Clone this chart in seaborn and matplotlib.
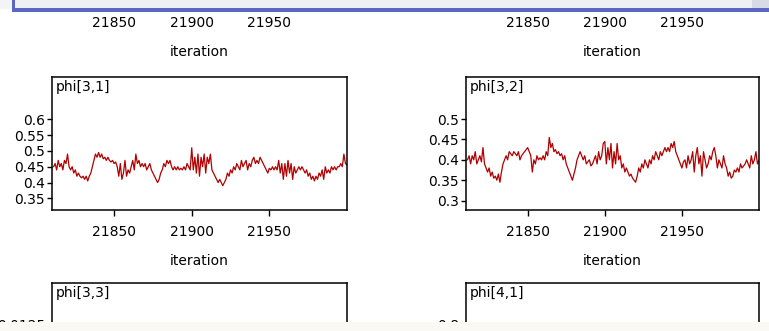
import matplotlib
matplotlib.use("Agg")
import matplotlib.pyplot as plt
import matplotlib.ticker as mticker
from matplotlib.patches import Rectangle
import pandas as pd
import seaborn as sns

# iterations shown in the trace window
iter_start = 21811
iter_end = 22000
x_ticks = [21850, 21900, 21950]

phi_3_1 = [
    0.45, 0.46, 0.44, 0.47, 0.45, 0.46, 0.44, 0.47, 0.46, 0.49,
    0.45, 0.44, 0.45, 0.43, 0.44, 0.42, 0.43, 0.42, 0.415, 0.42,
    0.41, 0.42, 0.405, 0.42, 0.43, 0.45, 0.47, 0.49, 0.48, 0.495,
    0.48, 0.49, 0.475, 0.48, 0.47, 0.48, 0.47, 0.465, 0.47, 0.46,
    0.465, 0.45, 0.42, 0.46, 0.41, 0.43, 0.47, 0.42, 0.44, 0.43,
    0.45, 0.47, 0.44, 0.49, 0.46, 0.47, 0.45, 0.46, 0.45, 0.46,
    0.44, 0.45, 0.46, 0.44, 0.43, 0.42, 0.41, 0.40, 0.41, 0.43,
    0.44, 0.46, 0.45, 0.47, 0.46, 0.47, 0.45, 0.44, 0.45, 0.44,
    0.45, 0.44, 0.445, 0.44, 0.45, 0.44, 0.46, 0.45, 0.44, 0.51,
    0.44, 0.48, 0.43, 0.49, 0.42, 0.48, 0.45, 0.49, 0.43, 0.48,
    0.46, 0.49, 0.44, 0.43, 0.42, 0.41, 0.40, 0.41, 0.40, 0.39,
    0.40, 0.41, 0.43, 0.42, 0.44, 0.43, 0.45, 0.44, 0.46, 0.45,
    0.44, 0.47, 0.45, 0.46, 0.47, 0.44, 0.46, 0.45, 0.47, 0.48,
    0.46, 0.47, 0.46, 0.48, 0.47, 0.46, 0.45, 0.44, 0.43, 0.445,
    0.44, 0.45, 0.44, 0.45, 0.44, 0.47, 0.43, 0.46, 0.41, 0.46,
    0.42, 0.47, 0.43, 0.46, 0.41, 0.45, 0.43, 0.44, 0.45, 0.44,
    0.45, 0.44, 0.43, 0.44, 0.42, 0.43, 0.41, 0.42, 0.405, 0.42,
    0.41, 0.43, 0.42, 0.44, 0.41, 0.45, 0.43, 0.44, 0.43, 0.45,
    0.44, 0.45, 0.44, 0.45, 0.45, 0.46, 0.45, 0.49, 0.46, 0.455,
]

phi_3_2 = [
    0.40, 0.41, 0.39, 0.41, 0.40, 0.42, 0.39, 0.40, 0.41, 0.395,
    0.43, 0.39, 0.38, 0.37, 0.38, 0.36, 0.37, 0.355, 0.36, 0.35,
    0.365, 0.345, 0.37, 0.39, 0.40, 0.41, 0.40, 0.42, 0.415, 0.41,
    0.42, 0.415, 0.41, 0.42, 0.40, 0.41, 0.415, 0.42, 0.425, 0.43,
    0.42, 0.41, 0.37, 0.40, 0.39, 0.41, 0.40, 0.405, 0.40, 0.41,
    0.40, 0.42, 0.41, 0.455, 0.43, 0.44, 0.42, 0.425, 0.415, 0.42,
    0.41, 0.415, 0.40, 0.41, 0.39, 0.38, 0.37, 0.36, 0.35, 0.365,
    0.38, 0.40, 0.41, 0.42, 0.41, 0.40, 0.41, 0.39, 0.395, 0.40,
    0.385, 0.39, 0.40, 0.41, 0.39, 0.42, 0.40, 0.41, 0.44, 0.445,
    0.39, 0.43, 0.40, 0.44, 0.38, 0.42, 0.39, 0.44, 0.40, 0.41,
    0.38, 0.39, 0.37, 0.38, 0.37, 0.36, 0.365, 0.355, 0.35, 0.345,
    0.36, 0.38, 0.37, 0.39, 0.38, 0.40, 0.39, 0.38, 0.40, 0.39,
    0.41, 0.40, 0.42, 0.41, 0.40, 0.42, 0.41, 0.42, 0.43, 0.42,
    0.43, 0.42, 0.44, 0.43, 0.445, 0.42, 0.41, 0.40, 0.39, 0.38,
    0.395, 0.40, 0.38, 0.41, 0.39, 0.40, 0.42, 0.37, 0.41, 0.43,
    0.39, 0.41, 0.36, 0.42, 0.40, 0.38, 0.39, 0.41, 0.40, 0.42,
    0.43, 0.41, 0.38, 0.40, 0.39, 0.38, 0.41, 0.39, 0.38, 0.36,
    0.37, 0.355, 0.36, 0.375, 0.37, 0.38, 0.37, 0.39, 0.38, 0.385,
    0.39, 0.40, 0.39, 0.38, 0.41, 0.39, 0.40, 0.42, 0.39, 0.40,
]

ticks_3_1 = [0.35, 0.4, 0.45, 0.5, 0.55, 0.6]
ticks_3_2 = [0.3, 0.35, 0.4, 0.45, 0.5]

sns.set_style("white")
plt.rcParams['font.family'] = ['DejaVu Sans']
plt.rcParams['text.color'] = 'black'
plt.rcParams['axes.labelcolor'] = 'black'
plt.rcParams['xtick.color'] = 'black'
plt.rcParams['ytick.color'] = 'black'
FS = 10

W, H = 769, 331
fig = plt.figure(figsize=(W / 100, H / 100), dpi=100)
fig.patch.set_facecolor('white')


def add_panel(x0, top, w, h):
    return fig.add_axes([x0 / W, (H - top - h) / H, w / W, h / H])


def style_axes(ax, show_x=True):
    for sp in ax.spines.values():
        sp.set_visible(True)
        sp.set_color('black')
        sp.set_linewidth(1.1)
    ax.set_facecolor('white')
    ax.set_xlim(iter_start - 1, iter_end)
    ax.set_xticks(x_ticks)
    ax.tick_params(axis='y', direction='out', length=3.5, width=1,
                   color='black', labelcolor='black', labelsize=FS, pad=1.5,
                   left=True)
    ax.tick_params(axis='x', direction='out', length=4.5, width=1,
                   color='black', labelcolor='black', labelsize=FS, pad=6,
                   bottom=True)
    ax.yaxis.set_major_formatter(mticker.FuncFormatter(lambda v, p: f"{v:g}"))
    ax.set_ylabel('')
    if show_x:
        ax.set_xlabel('iteration', fontsize=FS, labelpad=11, color='black')
    else:
        ax.set_xlabel('')
        ax.tick_params(axis='x', bottom=False, labelbottom=False)


iters = list(range(iter_start, iter_end + 1))
df = pd.DataFrame({'iteration': iters, 'phi[3,1]': phi_3_1, 'phi[3,2]': phi_3_2})

cols = [(52, 295), (466, 293)]
box_h = 133

# top row (only the bottom axis is visible below the window bar)
for x0, w in cols:
    ax = add_panel(x0, 1 - box_h, w, box_h)
    style_axes(ax)
    ax.set_yticks([])

# middle row: traces
for (x0, w), name, yl, yt in [
    (cols[0], 'phi[3,1]', (0.313, 0.734), ticks_3_1),
    (cols[1], 'phi[3,2]', (0.277, 0.603), ticks_3_2),
]:
    ax = add_panel(x0, 77, w, box_h)
    sns.lineplot(data=df, x='iteration', y=name, ax=ax, color='#b00000',
                 linewidth=0.9)
    style_axes(ax)
    ax.set_ylim(*yl)
    ax.set_yticks(yt)
    ax.text(0.012, 0.975, name, transform=ax.transAxes, ha='left', va='top',
            fontsize=FS, color='black')

# bottom row, cut off by the window edge
for (x0, w), name, yl, yt in [
    (cols[0], 'phi[3,3]', (0.00835, 0.01435), [0.0125]),
    (cols[1], 'phi[4,1]', (0.385, 0.985), [0.8]),
]:
    ax = add_panel(x0, 283, w, box_h)
    style_axes(ax, show_x=False)
    ax.set_ylim(*yl)
    ax.set_yticks(yt)
    ax.text(0.012, 0.975, name, transform=ax.transAxes, ha='left', va='top',
            fontsize=FS, color='black')

# window bars
def px_rect(x, y, w, h, color, z=10):
    fig.add_artist(Rectangle((x / W, (H - y - h) / H), w / W, h / H,
                             transform=fig.transFigure, facecolor=color,
                             edgecolor='none', zorder=z))

px_rect(0, 0, W, 9, '#f3f4f6')
px_rect(12, 0, W - 12, 9, '#eef0f4')
px_rect(12, 8, W - 12, 4, '#5a68c4', z=11)
px_rect(12, 0, 3, 12, '#5a68c4', z=11)
px_rect(752, 0, 17, 8, '#d8dbe6', z=11)
px_rect(0, 322, W, 9, '#faf9f3')

fig.savefig('out.png', dpi=100)
